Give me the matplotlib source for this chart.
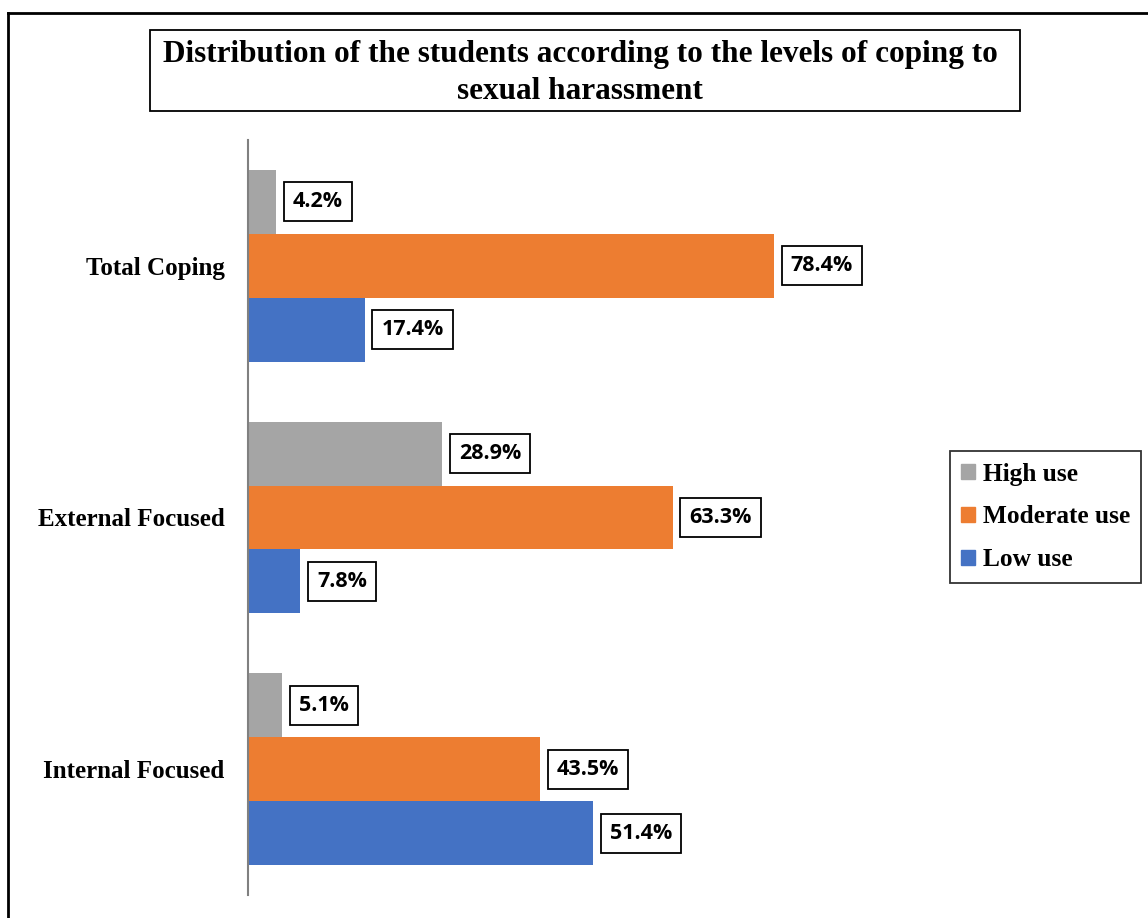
import matplotlib.pyplot as plt
from matplotlib.lines import Line2D
from matplotlib.patches import Patch, Rectangle

categories = ['Internal Focused', 'External Focused', 'Total Coping']
low_use = [51.4, 7.8, 17.4]
moderate_use = [43.5, 63.3, 78.4]
high_use = [5.1, 28.9, 4.2]

W, H = 1148, 918
fig = plt.figure(figsize=(W / 100, H / 100), dpi=100)
ax = fig.add_axes([248 / W, 23 / H, 671 / W, 755 / H])

h = 0.254
ypos = range(len(categories))
series = [(low_use, -h, '#4472C4', 'Low use'),
          (moderate_use, 0, '#ED7D31', 'Moderate use'),
          (high_use, h, '#A5A5A5', 'High use')]
for vals, off, col, lab in series:
    ys = [y + off for y in ypos]
    ax.barh(ys, vals, height=h, color=col, label=lab)
    for y, v in zip(ys, vals):
        ax.text(v + 2.5, y, f'{v:.1f}%', va='center', ha='left',
                fontsize=15.5, fontweight='bold', family='Open Sans',
                bbox=dict(boxstyle='square,pad=0.42', fc='white', ec='black', lw=1.3))

ax.set_xlim(0, 100)
ax.set_ylim(-0.5, 2.5)
ax.set_yticks(list(ypos))
ax.set_yticklabels(categories, fontsize=18, fontweight='bold', family='Liberation Serif')
ax.tick_params(axis='y', length=0, pad=17)
ax.set_xticks([])
for s in ['top', 'right', 'bottom']:
    ax.spines[s].set_visible(False)
ax.spines['left'].set_color('#808080')
ax.spines['left'].set_linewidth(1.5)

handles = [Patch(color='#A5A5A5', label='High use'),
           Patch(color='#ED7D31', label='Moderate use'),
           Patch(color='#4472C4', label='Low use')]
leg = fig.legend(handles=handles, loc='center', bbox_to_anchor=(1045.5 / W, 1 - 517 / H),
                 prop={'family': 'Liberation Serif', 'weight': 'bold', 'size': 18.3},
                 frameon=True, fancybox=False, edgecolor='black', handlelength=0.55,
                 handleheight=0.55, handletextpad=0.3, labelspacing=0.78, borderpad=0.45,
                 borderaxespad=0)
leg.get_frame().set_linewidth(1.3)

# title box
fig.add_artist(Rectangle((150 / W, 1 - 111 / H), 870 / W, 81 / H, transform=fig.transFigure,
                         fill=False, ec='black', lw=1.3))
fig.text(580 / W, 1 - 73 / H,
         'Distribution of the students according to the levels of coping to\nsexual harassment',
         ha='center', va='center', fontsize=22.5, fontweight='bold', family='Liberation Serif',
         linespacing=1.35)

# outer frame (left and top only visible)
fig.add_artist(Line2D([8 / W, 8 / W], [0, 1 - 13 / H], color='black', lw=2, transform=fig.transFigure))
fig.add_artist(Line2D([8 / W, 1], [1 - 13 / H, 1 - 13 / H], color='black', lw=2, transform=fig.transFigure))

fig.savefig('out.png', dpi=100)
